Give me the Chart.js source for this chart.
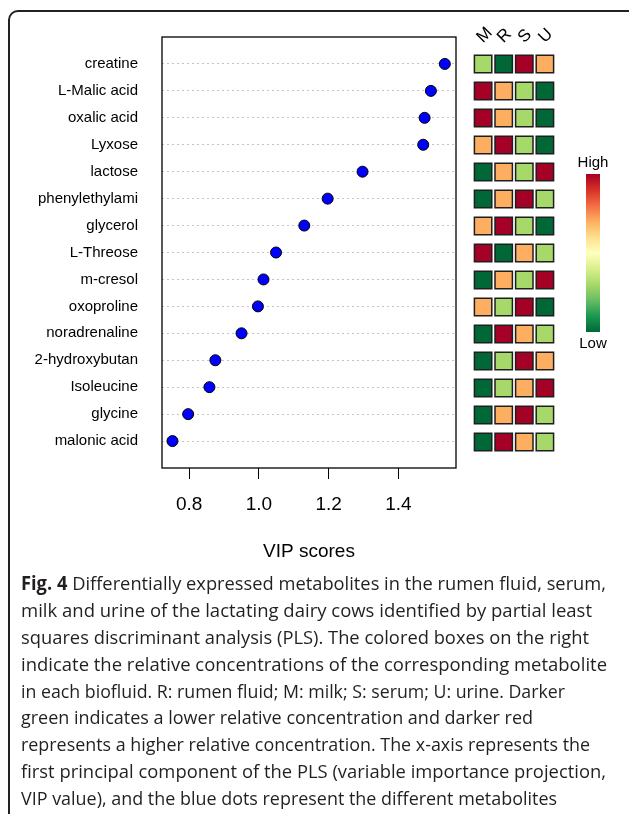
<!DOCTYPE html>
<html>
<head>
<meta charset="utf-8">
<script src="https://cdn.jsdelivr.net/npm/chart.js@4.4.1/dist/chart.umd.min.js"></script>
<style>
  body { margin: 0; width: 629px; height: 814px; overflow: hidden; position: relative; background: #fff; font-family: "Liberation Sans", Arial, sans-serif; }
  #frame { position: absolute; left: 8px; top: 10px; width: 640px; height: 820px; border: 2px solid #222; border-radius: 10px; box-sizing: border-box; }
  #main { position: absolute; left: 0; top: 0; }
  #heat { position: absolute; left: 459px; top: 0; }
  #bar { position: absolute; left: 586px; top: 174px; width: 14px; height: 158px;
    background: linear-gradient(to bottom, #a50026, #d73027, #f46d43, #fdae61, #fee08b, #ffffbf, #d9ef8b, #a6d96a, #66bd63, #1a9850, #006837); }
  .key { position: absolute; left: 563px; width: 60px; text-align: center; font-size: 15px; color: #000; line-height: 18px; }
  #cap { position: absolute; left: 21px; top: 570px; font-family: "Open Sans", sans-serif; font-size: 19px; color: #231f20; }
  .ln { white-space: nowrap; height: 26.9px; line-height: 26.9px; transform-origin: left center; }
  .ln span { display: inline-block; }
</style>
</head>
<body>
<div id="frame"></div>
<canvas id="main" width="465" height="575"></canvas>
<canvas id="heat" width="110" height="575"></canvas>
<div id="bar"></div>
<div class="key" style="top:153px">High</div>
<div class="key" style="top:334px">Low</div>
<div id="cap"></div>

<script>
// metabolites, top to bottom
const metabolites = ["creatine", "L-Malic acid", "oxalic acid", "Lyxose", "lactose", "phenylethylami", "glycerol",
  "L-Threose", "m-cresol", "oxoproline", "noradrenaline", "2-hydroxybutan", "Isoleucine", "glycine", "malonic acid"];
const vipScores = [1.533, 1.493, 1.475, 1.471, 1.297, 1.197, 1.130, 1.049, 1.013, 0.997, 0.950, 0.875, 0.858, 0.797, 0.752];
const xTicks = [0.8, 1.0, 1.2, 1.4];

// relative concentration level per biofluid (1 = lowest, 4 = highest)
const fluids = ["M", "R", "S", "U"];
const levelM = [2, 4, 4, 3, 1, 1, 3, 4, 1, 3, 1, 1, 1, 1, 1];
const levelR = [1, 3, 3, 4, 3, 3, 4, 1, 3, 2, 4, 2, 2, 3, 4];
const levelS = [4, 2, 2, 2, 2, 4, 2, 3, 2, 4, 3, 4, 3, 4, 3];
const levelU = [3, 1, 1, 1, 4, 2, 1, 2, 4, 1, 2, 3, 4, 2, 2];

const levelColors = ["#006837", "#a6d96a", "#fdae61", "#a50026"];
const font = "Liberation Sans";

// box round the plot area
const boxPlugin = {
  id: "box",
  afterDraw(chart) {
    const a = chart.chartArea, ctx = chart.ctx;
    ctx.save();
    ctx.strokeStyle = "#000";
    ctx.lineWidth = 1.3;
    ctx.strokeRect(a.left, a.top, a.right - a.left, a.bottom - a.top);
    ctx.restore();
  }
};

new Chart(document.getElementById("main"), {
  type: "scatter",
  data: {
    datasets: [{
      data: vipScores.map((v, i) => ({ x: v, y: i + 1 })),
      backgroundColor: "#0000ff",
      borderColor: "#000",
      borderWidth: 1,
      pointRadius: 5.5,
      pointHoverRadius: 5.5
    }]
  },
  options: {
    responsive: false,
    animation: false,
    devicePixelRatio: 1,
    events: [],
    layout: { padding: { left: 0, right: 9, top: 37, bottom: 0 } },
    plugins: { legend: { display: false }, tooltip: { enabled: false } },
    scales: {
      x: {
        type: "linear", min: 0.722, max: 1.565,
        afterBuildTicks: s => { s.ticks = xTicks.map(v => ({ value: v })); },
        afterFit: s => { s.height = 107; },
        grid: { drawOnChartArea: false, drawTicks: true, tickLength: 11, tickColor: "#000", tickWidth: 1 },
        border: { display: false },
        ticks: { color: "#000", font: { family: font, size: 19 }, padding: 14, maxRotation: 0, callback: v => v.toFixed(1) },
        title: { display: true, text: "VIP scores", color: "#000", font: { family: font, size: 19 }, padding: { top: 0, bottom: 12 } }
      },
      y: {
        type: "linear", reverse: true, min: 0, max: 16,
        afterBuildTicks: s => { s.ticks = metabolites.map((m, i) => ({ value: i + 1 })); },
        afterFit: s => { s.width = 162; },
        grid: { color: "#c4c4c4", lineWidth: 1, drawTicks: false },
        border: { display: false, dash: [2, 3] },
        ticks: { color: "#000", font: { family: font, size: 15 }, padding: 24, callback: v => metabolites[v - 1] }
      }
    }
  },
  plugins: [boxPlugin]
});

// heatmap of relative concentrations
const levels = [levelM, levelR, levelS, levelU];
new Chart(document.getElementById("heat"), {
  type: "scatter",
  data: {
    datasets: levels.map((lv, j) => ({
      label: fluids[j],
      data: lv.map((l, i) => ({ x: j, y: i + 1 })),
      backgroundColor: lv.map(l => levelColors[l - 1]),
      borderColor: "#1e1e1e",
      borderWidth: 1.5,
      pointStyle: "rect",
      pointRadius: 12.3,
      pointHoverRadius: 12.3
    }))
  },
  options: {
    responsive: false,
    animation: false,
    devicePixelRatio: 1,
    events: [],
    layout: { padding: { left: 1, right: 13, top: 0, bottom: 119.5 } },
    plugins: { legend: { display: false }, tooltip: { enabled: false } },
    scales: {
      x: {
        type: "linear", position: "top", min: -0.5, max: 3.5,
        afterBuildTicks: s => { s.ticks = fluids.map((f, j) => ({ value: j })); },
        afterFit: s => { s.height = 50.5; },
        grid: { display: false, drawTicks: false },
        border: { display: false },
        ticks: { color: "#000", font: { family: font, size: 17 }, padding: 3, minRotation: 45, maxRotation: 45, labelOffset: 11,
          callback: v => fluids[v] }
      },
      y: { type: "linear", reverse: true, min: 0.5, max: 15.5, display: false }
    }
  }
});

// caption
const capLines = [
  "<b>Fig. 4</b> Differentially expressed metabolites in the rumen fluid, serum,",
  "milk and urine of the lactating dairy cows identified by partial least",
  "squares discriminant analysis (PLS). The colored boxes on the right",
  "indicate the relative concentrations of the corresponding metabolite",
  "in each biofluid. R: rumen fluid; M: milk; S: serum; U: urine. Darker",
  "green indicates a lower relative concentration and darker red",
  "represents a higher relative concentration. The x-axis represents the",
  "first principal component of the PLS (variable importance projection,",
  "VIP value), and the blue dots represent the different metabolites"
];
const capWidths = [585, 571, 568, 586, 544, 512, 569, 585, 536];
const cap = document.getElementById("cap");
capLines.forEach((t, i) => {
  const d = document.createElement("div");
  d.className = "ln";
  const s = document.createElement("span");
  s.innerHTML = t;
  d.appendChild(s);
  cap.appendChild(d);
  const w = s.getBoundingClientRect().width;
  d.style.transform = "scaleX(" + (capWidths[i] / w).toFixed(4) + ")";
});
</script>
</body>
</html>
